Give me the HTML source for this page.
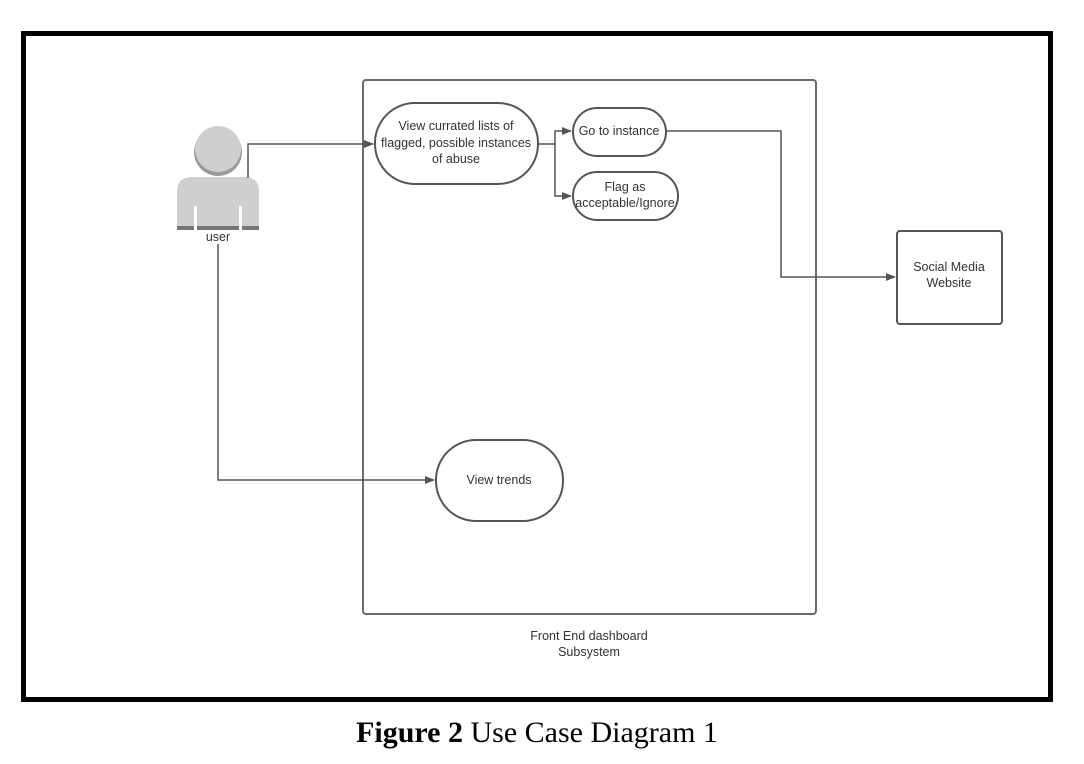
<!DOCTYPE html>
<html><head><style>
html,body{margin:0;padding:0;background:#fff;}
svg{display:block;}
</style></head><body>
<svg width="1084" height="764" viewBox="0 0 1084 764" xmlns="http://www.w3.org/2000/svg">
<defs>
<marker id="a" markerWidth="10" markerHeight="8" refX="9" refY="4" orient="auto" markerUnits="userSpaceOnUse">
<path d="M0,0 L10,4 L0,8 z" fill="#555"/>
</marker>
</defs>
<rect x="0" y="0" width="1084" height="764" fill="#fff"/>
<rect x="23.5" y="33.5" width="1027" height="666" fill="none" stroke="#000" stroke-width="5"/>
<rect x="363" y="80" width="453" height="534" rx="3" fill="none" stroke="#6a6a6a" stroke-width="2"/>
<g font-family="Liberation Sans, sans-serif" font-size="12.5" fill="#333" text-anchor="middle">
<rect x="375" y="103" width="163" height="81" rx="40" fill="#fff" stroke="#555" stroke-width="2"/>
<text x="456" y="130">View currated lists of</text>
<text x="456" y="147">flagged, possible instances</text>
<text x="456" y="163">of abuse</text>
<rect x="573" y="108" width="93" height="48" rx="24" fill="#fff" stroke="#555" stroke-width="2"/>
<text x="619" y="135">Go to instance</text>
<rect x="573" y="172" width="105" height="48" rx="24" fill="#fff" stroke="#555" stroke-width="2"/>
<text x="625" y="191">Flag as</text>
<text x="625" y="207">acceptable/Ignore</text>
<rect x="436" y="440" width="127" height="81" rx="40" fill="#fff" stroke="#555" stroke-width="2"/>
<text x="499" y="484">View trends</text>
<rect x="897" y="231" width="105" height="93" rx="3" fill="#fff" stroke="#555" stroke-width="2"/>
<text x="949" y="271">Social Media</text>
<text x="949" y="287">Website</text>
<text x="589" y="640">Front End dashboard</text>
<text x="589" y="656">Subsystem</text>
<text x="218" y="241">user</text>
</g>
<circle cx="218" cy="152" r="24" fill="#999"/>
<circle cx="218" cy="149" r="23" fill="#cfcfcf"/>
<path d="M177,228 L177,192 Q177,177 192,177 L244,177 Q259,177 259,192 L259,228 Z" fill="#cfcfcf"/>
<rect x="194" y="206" width="3" height="22" fill="#fff"/>
<rect x="239" y="206" width="3" height="22" fill="#fff"/>
<rect x="177" y="226" width="82" height="4" fill="#777"/>
<rect x="194" y="226" width="3" height="4" fill="#fff"/>
<rect x="239" y="226" width="3" height="4" fill="#fff"/>
<g fill="none" stroke="#555" stroke-width="1.5">
<path d="M248,178 L248,144 L373,144" marker-end="url(#a)"/>
<path d="M218,244 L218,480 L434,480" marker-end="url(#a)"/>
<path d="M538,144 L555,144"/>
<path d="M555,144 L555,131 L571,131" marker-end="url(#a)"/>
<path d="M555,144 L555,196 L571,196" marker-end="url(#a)"/>
<path d="M666,131 L781,131 L781,277 L895,277" marker-end="url(#a)"/>
</g>
<text x="537" y="742" font-family="Liberation Serif, serif" font-size="30" text-anchor="middle" fill="#000"><tspan font-weight="bold">Figure 2</tspan> Use Case Diagram 1</text>
</svg>
</body></html>
